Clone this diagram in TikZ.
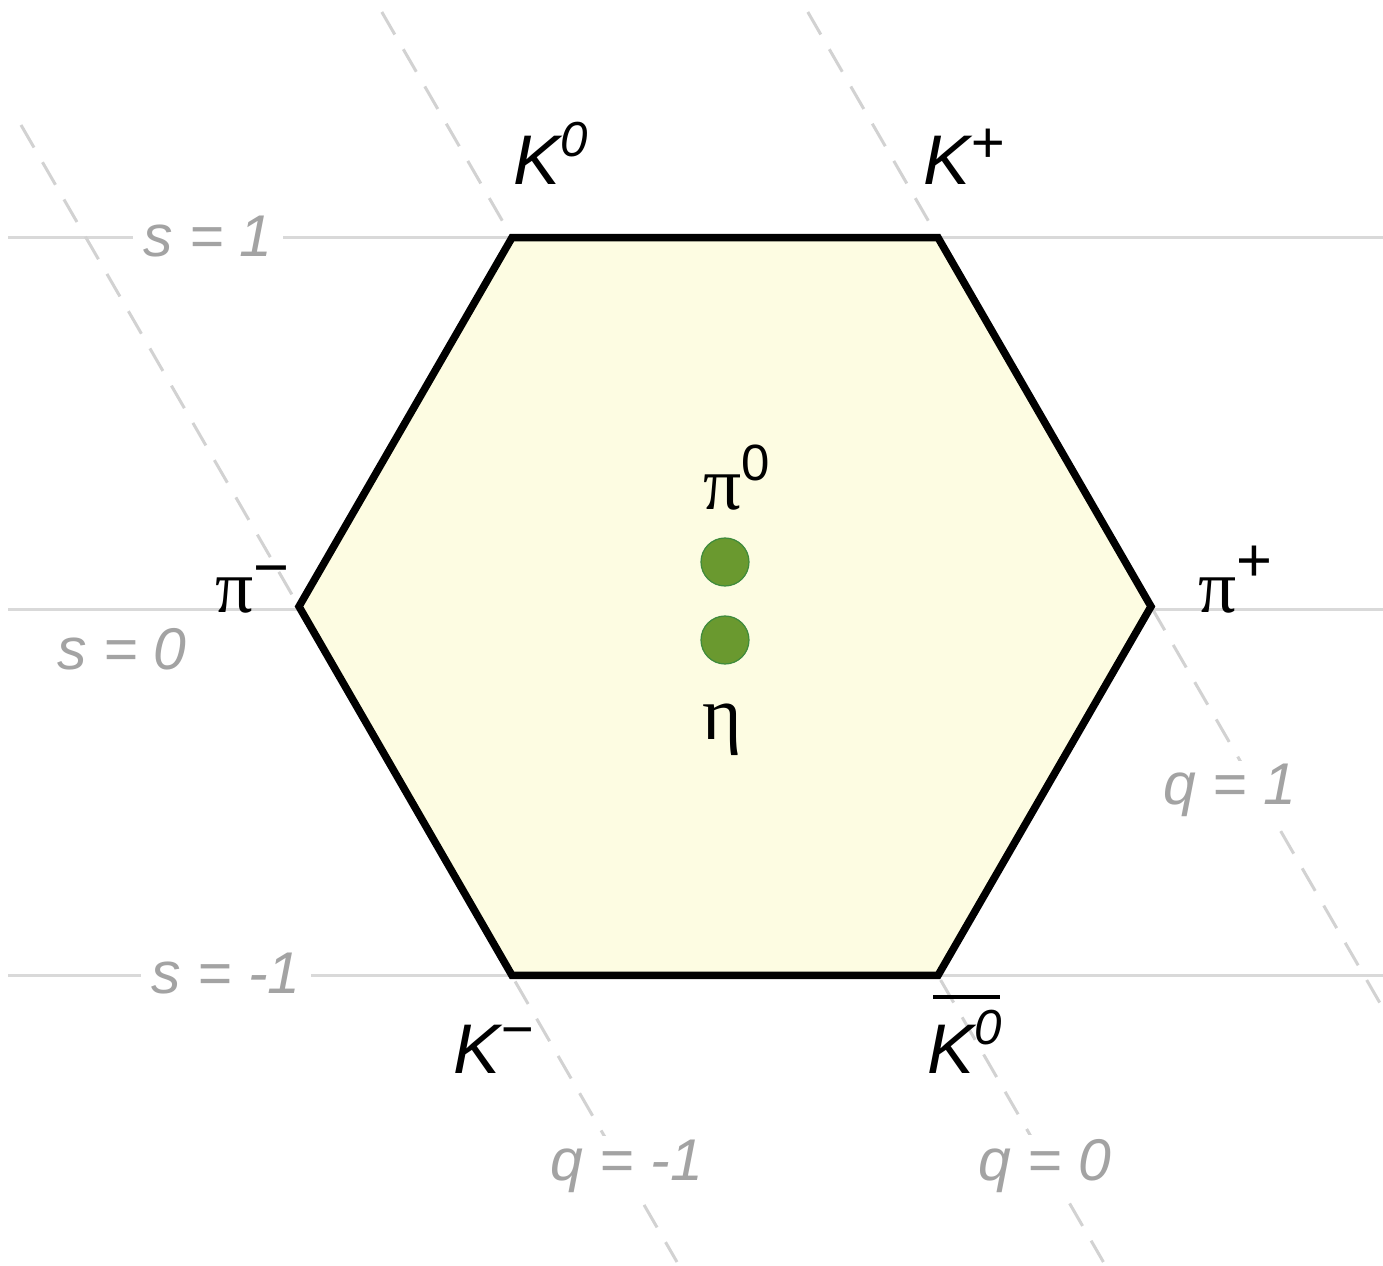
\documentclass[tikz,border=0pt]{standalone}
\usepackage{fontspec}
\setmainfont{Liberation Sans}
\newfontfamily\grkfont{Liberation Serif}
\definecolor{hexfill}{HTML}{FDFCE2}
\definecolor{hline}{HTML}{D9D9D9}
\definecolor{dline}{HTML}{D2D2D2}
\definecolor{labgray}{HTML}{A3A3A3}
\definecolor{dotfill}{HTML}{6A992F}
\definecolor{dotedge}{HTML}{3F8B3C}
\newcommand{\hsup}[3]{\raisebox{#1}{\fontsize{#2}{#2}\selectfont\rmfamily #3}}
\tikzset{
  sline/.style={draw=hline, line width=0.06cm},
  qline/.style={draw=dline, line width=0.06cm, dash pattern=on 0.52cm off 0.34cm},
  hexa/.style={draw=black, fill=hexfill, line width=0.15cm, line join=miter},
  glab/.style={font=\fontsize{33.5}{36}\selectfont\itshape, text=labgray, fill=white, inner xsep=6pt, inner ysep=2pt},
  klab/.style={font=\fontsize{40}{44}\selectfont\itshape, inner sep=0pt, anchor=base west},
  plab/.style={font=\fontsize{43}{46}\selectfont\grkfont, inner sep=0pt, anchor=base west},
  mdot/.style={circle, fill=dotfill, draw=dotedge, line width=0.7pt, minimum size=0.96cm, inner sep=0pt}
}
\begin{document}
\begin{tikzpicture}[x=0.02cm, y=-0.02cm]
\useasboundingbox (0,0) rectangle (1383,1266);
\fill[white] (0,0) rectangle (1383,1266);
% hexagon vertices
\coordinate (vK0) at (512,237.6);
\coordinate (vKp) at (938,237.6);
\coordinate (vpip) at (1151,606.5);
\coordinate (vK0b) at (938,975.4);
\coordinate (vKm) at (512,975.4);
\coordinate (vpim) at (299,606.5);
% strangeness lines
\coordinate (s1a) at (8,237.6);   \coordinate (s1b) at (1383,237.6);
\coordinate (s0a) at (8,610);     \coordinate (s0b) at (1383,610);
\coordinate (sma) at (8,975.4);   \coordinate (smb) at (1383,975.4);
\draw[sline] (s1a) -- (s1b);
\draw[sline] (s0a) -- (s0b);
\draw[sline] (sma) -- (smb);
% charge lines
\coordinate (qma) at (21,125);     \coordinate (qmb) at (677,1262);
\coordinate (q0a) at (381.8,12);   \coordinate (q0b) at (1103.4,1262);
\coordinate (q1a) at (807.8,12);   \coordinate (q1b) at (1383,1008.3);
\draw[qline] (qma) -- (qmb);
\draw[qline] (q0a) -- (q0b);
\draw[qline] (q1a) -- (q1b);
% hexagon
\draw[hexa] (vK0) -- (vKp) -- (vpip) -- (vK0b) -- (vKm) -- (vpim) -- cycle;
% gray labels
\node[glab, anchor=base] (ls1) at (208,257) {s = 1};
\node[glab, anchor=base, fill=none] (ls0) at (122,670) {s = 0};
\node[glab, anchor=base] (lsm) at (226,993) {s = -1};
\node[glab, anchor=base] (lq1) at (1230,805) {q = 1};
\node[glab, anchor=base] (lqm) at (627,1180) {q = -1};
\node[glab, anchor=base] (lq0) at (1045,1180) {q = 0};
% particle labels
\node[klab] (K0) at (513,185) {K\hsup{16pt}{28}{\itshape 0}};
\node[klab] (Kp) at (923,185) {K\hsup{13pt}{33}{+}};
\node[klab] (Km) at (453,1073) {K\hsup{14pt}{32}{−}};
\node[klab] (K0b) at (927,1073) {K\hsup{16pt}{28}{\itshape 0}};
\coordinate (obA) at (933,997); \coordinate (obB) at (1000,997);
\draw[line width=0.08cm] (obA) -- (obB);
\node[plab] (pim) at (215,613) {π\hsup{14pt}{35}{−}};
\node[plab] (pip) at (1198,613) {π\hsup{18pt}{35}{+}};
\node[plab] (pi0) at (703,510) {π\hsup{17pt}{29}{0}};
\node[plab] (eta) at (702,740) {η};
% dots
\node[mdot] (d1) at (725,562) {};
\node[mdot] (d2) at (725,640) {};
\end{tikzpicture}
\end{document}
